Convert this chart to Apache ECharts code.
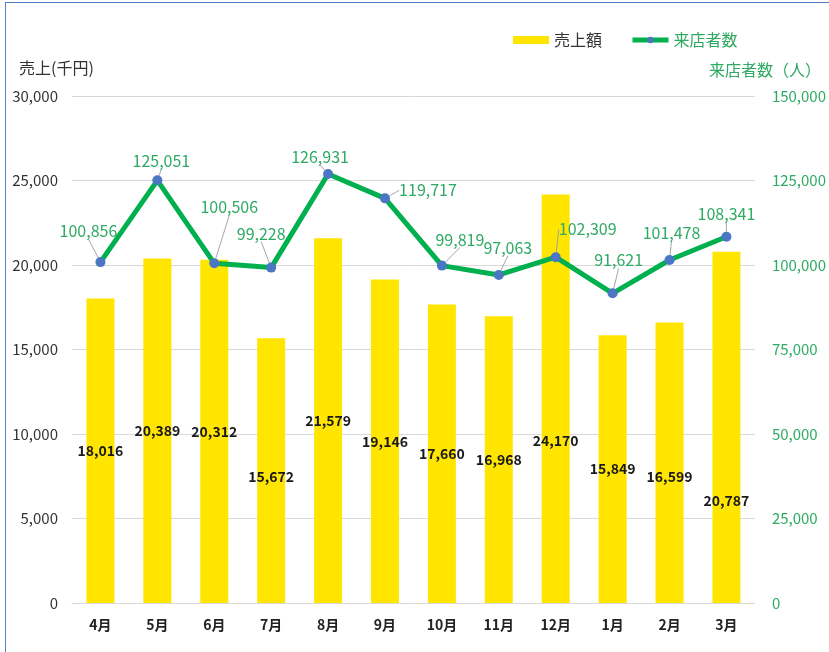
<!DOCTYPE html>
<html>
<head>
<meta charset="utf-8">
<script src="https://cdn.jsdelivr.net/npm/echarts@6/dist/echarts.min.js"></script>
<style>
html,body{margin:0;padding:0;width:829px;height:652px;overflow:hidden;background:#fff;}
#frame{position:absolute;left:5px;top:2px;width:900px;height:800px;border:1px solid #4f81c7;box-sizing:border-box;}
#chart{position:absolute;left:0;top:0;width:829px;height:652px;}
</style>
</head>
<body>
<div id="frame"></div>
<div id="chart"></div>
<script>
const categories = ['4月','5月','6月','7月','8月','9月','10月','11月','12月','1月','2月','3月'];
const salesValues = [18016, 20389, 20312, 15672, 21579, 19146, 17660, 16968, 24170, 15849, 16599, 20787];
const visitorValues = [100856, 125051, 100506, 99228, 126931, 119717, 99819, 97063, 102309, 91621, 101478, 108341];
const leftTicks = {min: 0, max: 30000, interval: 5000};
const rightTicks = {min: 0, max: 150000, interval: 25000};
const seriesNames = ['売上額', '来店者数'];
const axisNames = ['売上(千円)', '来店者数（人）'];

// label offsets (layout only)
const lineLabelOffsets = [[-12,-31],[4,-19],[15,-56],[-10,-34],[-8,-17],[43,-8],[18,-26],[9,-27],[32,-28],[6,-33],[2,-27],[0,-23]];
const barLabelOffsets = [0,0,0,6,0,0,0,0,42,0,14,73];

const GREEN_TEXT = '#2eaa62';
const FONT = '"Noto Sans CJK JP", "Noto Sans", sans-serif';
const fmt = v => v.toLocaleString('en-US');

const chart = echarts.init(document.getElementById('chart'), null, {renderer: 'canvas'});
chart.setOption({
  animation: false,
  textStyle: {fontFamily: FONT},
  legend: {
    left: 508, top: 27,
    itemWidth: 36, itemHeight: 8, itemGap: 28,
    textStyle: {fontSize: 16, fontFamily: FONT},
    lineStyle: {width: 5},
    data: [
      {name: seriesNames[0], icon: 'rect', textStyle: {color: '#333'}},
      {name: seriesNames[1], textStyle: {color: GREEN_TEXT}}
    ]
  },
  graphic: [
    {type: 'text', left: 19, top: 60, style: {text: axisNames[0], fill: '#333', font: '16px ' + FONT}},
    {type: 'text', right: 8, top: 62, style: {text: axisNames[1], fill: GREEN_TEXT, font: '16px ' + FONT}}
  ],
  grid: {left: 72, right: 70, top: 96, bottom: 49},
  xAxis: {
    type: 'category',
    data: categories,
    axisLine: {lineStyle: {color: '#d9d9d9', width: 1}},
    axisTick: {show: false},
    axisLabel: {color: '#222', fontWeight: 'bold', fontSize: 14, margin: 15, fontFamily: FONT}
  },
  yAxis: [
    {
      type: 'value', min: leftTicks.min, max: leftTicks.max, interval: leftTicks.interval,
      axisLine: {show: false}, axisTick: {show: false},
      splitLine: {lineStyle: {color: '#d9d9d9', width: 1}},
      axisLabel: {color: '#333', fontSize: 15, margin: 14, formatter: v => fmt(v), fontFamily: FONT}
    },
    {
      type: 'value', min: rightTicks.min, max: rightTicks.max, interval: rightTicks.interval,
      axisLine: {show: false}, axisTick: {show: false},
      splitLine: {show: false},
      axisLabel: {color: GREEN_TEXT, fontSize: 15, margin: 17, formatter: v => fmt(v), fontFamily: FONT}
    }
  ],
  series: [
    {
      name: seriesNames[0],
      type: 'bar',
      yAxisIndex: 0,
      data: salesValues,
      barWidth: 28,
      itemStyle: {color: '#ffe500'},
      label: {show: true, position: 'inside', color: '#1a1a1a', fontWeight: 'bold', fontSize: 14, formatter: p => fmt(p.value), fontFamily: FONT},
      labelLayout: p => ({dy: barLabelOffsets[p.dataIndex]})
    },
    {
      name: seriesNames[1],
      type: 'line',
      yAxisIndex: 1,
      data: visitorValues,
      symbol: 'circle',
      symbolSize: 10,
      itemStyle: {color: '#4a76c4'},
      lineStyle: {color: '#00b04f', width: 5},
      z: 5,
      label: {show: true, position: 'inside', color: GREEN_TEXT, fontSize: 16, formatter: p => fmt(p.value), fontFamily: FONT},
      labelLine: {show: true, lineStyle: {color: '#a6a6a6', width: 1}},
      labelLayout: p => ({dx: lineLabelOffsets[p.dataIndex][0], dy: lineLabelOffsets[p.dataIndex][1]})
    }
  ]
});
</script>
</body>
</html>
